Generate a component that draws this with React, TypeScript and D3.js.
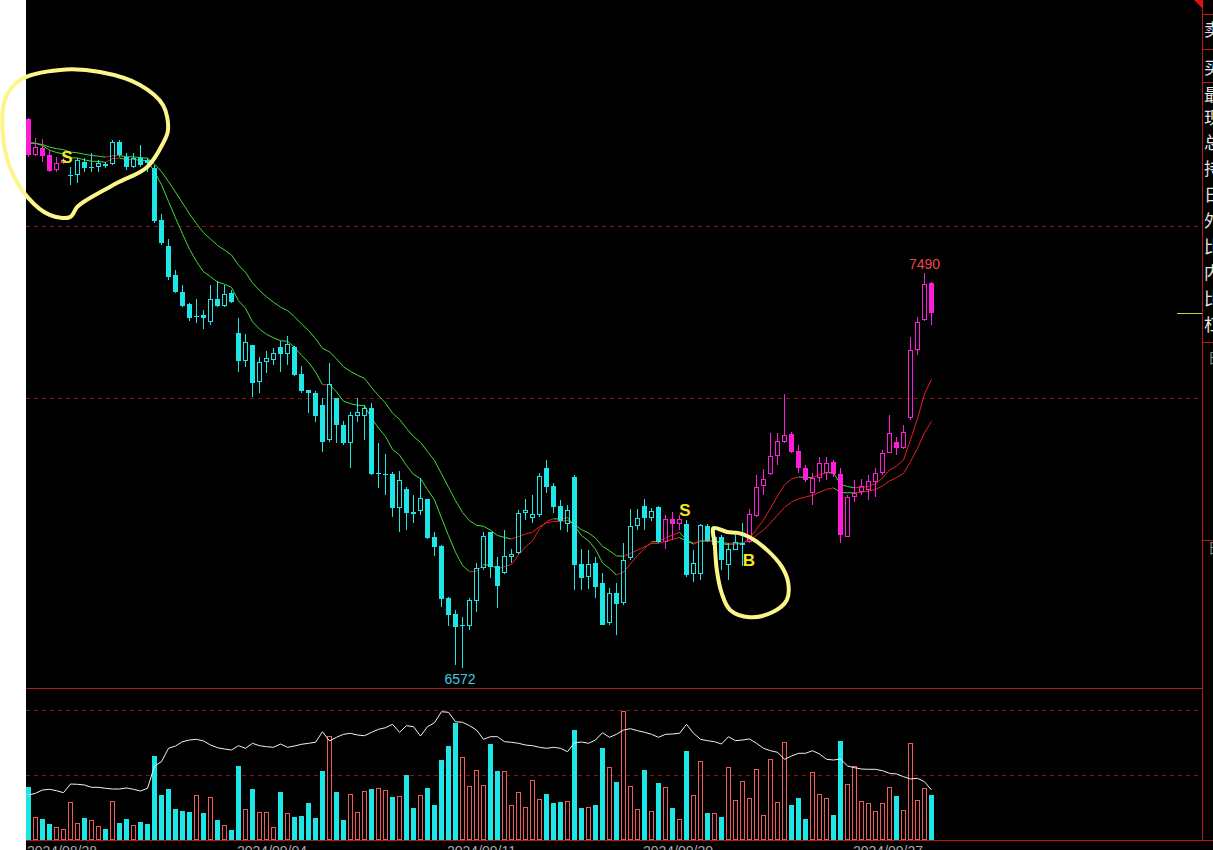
import React from 'react';
import * as d3 from 'd3';

// ---------- DATA ----------
const opens = [7848,7764,7780,7764,7729,7746,7715,7718,7748,7734,7736,7743,7743,7794,7760,7736,7757,7753,7734,7613,
7553,7485,7446,7418,7388,7392,7376,7430,7413,7444,7351,7286,7323,7237,7283,7288,7318,7302,7318,7255,
7218,7211,7183,7102,7200,7137,7095,7158,7158,7176,7023,7021,7023,6944,6988,6935,6937,6965,6877,6856,
6735,6698,6670,6670,6728,6804,6888,6809,6793,6830,6839,6932,6921,6928,7037,6995,6948,6907,7016,6814,
6784,6816,6770,6677,6746,6723,6828,6902,6948,6921,6946,6865,6918,6907,6907,6790,6790,6902,6858,6877,
6811,6846,6858,6865,6925,6995,7023,7065,7097,7116,7076,7037,6979,7014,7025,7051,7023,6876,6969,6981,
6986,7004,7025,7072,7097,7083,7153,7311,7381,7467];
const highs = [7850,7804,7801,7776,7760,7757,7736,7757,7757,7769,7753,7748,7799,7799,7769,7769,7788,7757,7741,7627,
7569,7497,7462,7420,7430,7404,7462,7471,7462,7451,7385,7348,7323,7295,7309,7316,7332,7344,7320,7274,
7218,7216,7200,7281,7200,7146,7167,7200,7183,7188,7095,7069,7028,7030,6993,6974,7014,6965,6888,6858,
6737,6707,6691,6735,6816,6888,6888,6830,6893,6849,6939,6965,6974,7025,7055,7002,6962,6951,7021,6849,
6846,6830,6793,6758,6770,6862,6942,6942,6965,6944,6948,6928,6935,6928,6916,6846,6907,6907,6897,6881,
6862,6881,6909,6942,7021,7035,7118,7118,7209,7121,7090,7044,7025,7062,7062,7055,7037,6974,7009,7011,
7021,7037,7079,7160,7109,7137,7341,7388,7490,7469];
const lows = [7760,7762,7748,7725,7725,7743,7695,7699,7725,7725,7725,7734,7741,7760,7729,7734,7736,7725,7606,7555,
7474,7444,7411,7378,7374,7360,7369,7411,7411,7420,7260,7272,7202,7211,7258,7276,7260,7276,7251,7211,
7165,7144,7074,7097,7095,7090,7037,7144,7102,7021,6990,6974,6923,6888,6893,6909,6928,6872,6832,6714,
6670,6579,6572,6660,6702,6800,6781,6712,6790,6816,6837,6916,6909,6923,6979,6932,6893,6888,6753,6753,
6756,6735,6672,6672,6649,6718,6823,6893,6893,6914,6862,6849,6870,6893,6784,6772,6777,6865,6853,6800,
6777,6846,6809,6862,6923,6974,7021,7044,7095,7072,7025,7004,6951,7004,7009,7016,6862,6876,6958,6974,
6962,6969,7021,7072,7067,7081,7148,7299,7379,7369];
const closes = [7764,7783,7762,7727,7746,7753,7718,7753,7734,7736,7746,7739,7794,7764,7736,7757,7741,7746,7611,7560,
7481,7446,7413,7385,7390,7385,7430,7413,7441,7423,7286,7330,7234,7283,7293,7304,7302,7325,7253,7216,
7211,7158,7097,7232,7137,7095,7160,7167,7176,7023,7025,7023,6944,7009,6932,6930,6967,6874,6853,6732,
6695,6667,6672,6730,6804,6879,6807,6763,6832,6837,6932,6939,6930,7018,6993,6946,6914,6939,6811,6781,
6814,6760,6672,6746,6721,6823,6902,6921,6921,6937,6865,6918,6907,6918,6788,6816,6904,6867,6877,6823,
6849,6865,6862,6930,6993,7011,7065,7100,7114,7074,7037,7009,7014,7049,7049,7023,6881,6969,6979,6995,
7007,7025,7072,7118,7083,7120,7311,7376,7465,7397];
const volumes = [16320,7080,6470,4930,4000,3390,11700,5240,6780,6160,4310,3390,12010,5240,6470,4620,5540,4930,25870,13860,
15710,9550,8930,8620,13860,8320,13240,6160,4620,3080,22790,9550,15710,8620,8620,4000,14780,8320,7080,7390,
11400,6780,21250,32030,14780,6160,14170,8620,15090,15710,16020,15400,13240,13550,20020,9860,13860,16020,10780,24640,
28950,36040,25560,16630,21560,16940,29570,21250,21250,10780,14780,10160,18480,12630,14170,11400,11700,12010,33880,9860,
10160,10780,28340,22480,17860,39730,16630,9550,21560,8930,17560,16320,9860,6470,27410,13860,24330,8320,8320,7080,
22480,12320,18170,12940,21870,7700,24950,11700,30180,10780,12940,6470,20940,14170,12940,7700,30490,17250,22790,12010,
11400,8930,11400,16320,13550,9240,29880,12320,16020,13860];
const openInterest = [55000,56700,60000,60700,59300,57300,66000,65700,65000,62700,62700,61700,61000,61000,62000,60700,59000,61700,84000,88300,
101700,104000,108300,110000,110700,109000,105000,102300,101000,100000,104300,101700,106700,104300,103300,102700,106000,102700,104000,105700,
106700,107700,118300,109000,112700,115700,116700,115000,114300,117700,120700,122300,125700,117700,124300,123300,114000,123300,127300,138300,
137700,128300,127700,124300,120000,110700,113300,113300,108300,107700,106700,105000,104300,102700,101700,102700,101700,98300,107300,108000,
106700,110000,117300,112700,115700,120000,121300,119300,117700,115700,112700,115700,116000,116700,125700,116700,110700,109300,108300,106000,
113300,109300,110000,111000,106700,101700,99300,97700,90700,94000,96700,96700,99300,96000,90700,90000,91000,84000,82300,81000,
80700,80700,79300,76700,76000,73300,71000,71700,68300,60000];

// bars drawn in the "buy" colour (between a B and the next S)
const buyRanges: [number, number][] = [[0, 5], [91, 93], [103, 129]];
const signalIdx = [6, 94, 103];
const signalType = ['S', 'S', 'B'];
const dateTickIdx = [0, 30, 60, 88, 118];
const dateTickLabels = ['2024/08/28', '2024/09/04', '2024/09/11', '2024/09/20', '2024/09/27'];
const priceGrid = [7200, 7600];
const volGrid = [20000, 40000];
const emaPeriods = [10, 20];
const emaSeeds = [7800, 7795];
const panelLabels = ['卖', '买', '最', '现', '总', '持', '日', '外', '比', '内', '比', '杠'];
const panelLabelY = [30, 68, 95, 118, 143, 169, 195, 221, 247, 273, 299, 325];
const extremeHighIdx = 128;
const extremeLowIdx = 62;
// hand-drawn annotation loops, in (bar index, price)
const loop1: [number, number][] = [[19.3, 7792], [17.0, 7736], [12.7, 7699], [8.4, 7660], [7.0, 7643], [6.0, 7620], [3.1, 7625], [-0.1, 7667], [-2.6, 7736], [-3.6, 7815], [-3.3, 7892], [-1.1, 7939], [4.6, 7962], [10.3, 7957], [16.0, 7927], [19.3, 7880], [20.0, 7822]];
const loop2: [number, number][] = [[97.9, 6897], [99.9, 6888], [101.4, 6886], [103.1, 6876], [105.6, 6846], [107.7, 6807], [108.6, 6770], [108.4, 6730], [106.4, 6702], [103.1, 6690], [100.3, 6707], [99.1, 6746], [98.4, 6800], [98.1, 6862]];

const CYAN = '#1ee6e6';
const MAG = '#ff1ed8';
const VRED = '#ee5a58';
const GRID = '#8c1212';
const FRAME = '#b81818';

function ema(vals: number[], period: number, seed: number) {
  const a = 2 / (period + 1);
  let prev = seed;
  return vals.map(v => (prev = prev + a * (v - prev)));
}

export default function App() {
  const W = 1213, H = 850;
  const n = closes.length;
  const x = d3.scaleLinear().domain([0, n - 1]).range([28, 931]);
  const y = d3.scaleLinear().domain([6572, 7490]).range([668, 273]);
  const yv = d3.scaleLinear().domain([0, 46800]).range([840, 688]);
  const yo = d3.scaleLinear().domain([10000, 162000]).range([840, 688]);

  const isBuy = (i: number) => buyRanges.some(([a, b]) => i >= a && i <= b);
  const emas = emaPeriods.map((p, k) => ema(closes, p, emaSeeds[k]));

  const oiLine = d3.line<number>().x((_, i) => x(i) + 0.5).y(d => yo(d));
  const loopLine = d3.line<[number, number]>().x(d => x(d[0])).y(d => y(d[1])).curve(d3.curveCatmullRomClosed.alpha(0.5));

  const candles = closes.map((c, i) => {
    const cx = Math.round(x(i));
    const o = opens[i];
    const up = c >= o;
    const col = isBuy(i) ? MAG : CYAN;
    const yTop = Math.round(y(Math.max(o, c)));
    const yBot = Math.round(y(Math.min(o, c)));
    const yH = Math.round(y(highs[i]));
    const yL = Math.round(y(lows[i]));
    const bh = Math.max(1, yBot - yTop);
    return (
      <g key={i}>
        {up ? (
          <>
            <line x1={cx + 0.5} x2={cx + 0.5} y1={yH} y2={yTop} stroke={col} />
            <line x1={cx + 0.5} x2={cx + 0.5} y1={yBot} y2={yL} stroke={col} />
            {bh <= 1 ? (
              <rect x={cx - 2} y={yTop} width={5} height={1} fill={col} />
            ) : (
              <rect x={cx - 1.5} y={yTop + 0.5} width={4} height={bh - 1} fill="none" stroke={col} />
            )}
          </>
        ) : (
          <>
            <line x1={cx + 0.5} x2={cx + 0.5} y1={yH} y2={yL} stroke={col} />
            <rect x={cx - 2} y={yTop} width={5} height={bh} fill={col} />
          </>
        )}
      </g>
    );
  });

  const vols = volumes.map((v, i) => {
    const cx = Math.round(x(i));
    const up = closes[i] >= opens[i];
    const top = Math.round(yv(v));
    const base = Math.round(yv(0));
    return up ? (
      <rect key={i} x={cx - 1.5} y={top + 0.5} width={4} height={base - top - 1} fill="none" stroke={VRED} />
    ) : (
      <rect key={i} x={cx - 2} y={top} width={5} height={base - top} fill={CYAN} />
    );
  });

  const maSegs: JSX.Element[] = [];
  emas.forEach((arr, k) => {
    for (let i = 1; i < n; i++) {
      const rising = arr[i] > arr[i - 1];
      maSegs.push(
        <line key={`m${k}-${i}`} x1={x(i - 1) + 0.5} y1={y(arr[i - 1])} x2={x(i) + 0.5} y2={y(arr[i])}
          stroke={rising ? '#e82020' : '#46d83a'} strokeWidth={1} />
      );
    }
  });

  return (
    <div style={{ position: 'absolute', left: 0, top: 0, width: W, height: H, overflow: 'hidden' }}>
      <svg width={W} height={H} style={{ display: 'block' }}>
        <rect x={0} y={0} width={W} height={H} fill="#ffffff" />
        <rect x={26} y={0} width={W - 26} height={H} fill="#000000" />

        {/* grid */}
        {priceGrid.map(p => (
          <line key={p} x1={26} x2={1202} y1={Math.round(y(p)) + 0.5} y2={Math.round(y(p)) + 0.5} stroke={GRID} strokeDasharray="4,4" />
        ))}
        {volGrid.map(v => (
          <line key={v} x1={26} x2={1202} y1={Math.round(yv(v)) + 0.5} y2={Math.round(yv(v)) + 0.5} stroke={GRID} strokeDasharray="4,4" />
        ))}

        {/* frame */}
        <line x1={26} x2={1202} y1={688.5} y2={688.5} stroke={FRAME} />
        <line x1={26} x2={W} y1={840.5} y2={840.5} stroke={FRAME} />
        <line x1={1202.5} x2={1202.5} y1={0} y2={841} stroke={FRAME} />
        {[14, 49, 82, 342, 540].map(v => (
          <line key={v} x1={1202} x2={W} y1={v + 0.5} y2={v + 0.5} stroke={FRAME} />
        ))}
        <polygon points="1194,0 1203,0 1203,9" fill="#e01010" />
        <line x1={1177} x2={1202} y1={313.5} y2={313.5} stroke="#c9d040" />

        {/* right side panel labels */}
        {panelLabels.map((t, k) => (
          <text key={k} x={1204} y={panelLabelY[k] + 6} fontSize={17} fill="#e4e4e4" fontFamily="'Noto Sans CJK SC', sans-serif">{t}</text>
        ))}
        <text x={1208} y={363} fontSize={14} fill="#8a8a8a" fontFamily="'Noto Sans CJK SC', sans-serif">日</text>
        <text x={1208} y={553} fontSize={14} fill="#8a8a8a" fontFamily="'Noto Sans CJK SC', sans-serif">日</text>

        {/* volume + open interest */}
        <g shapeRendering="crispEdges">{vols}</g>
        <path d={oiLine(openInterest) || ''} fill="none" stroke="#f2f2f2" strokeWidth={1} />

        {/* moving averages */}
        <g>{maSegs}</g>

        {/* candles */}
        <g shapeRendering="crispEdges">{candles}</g>

        {/* extremes */}
        <text x={x(extremeHighIdx) + 0.5} y={y(highs[extremeHighIdx]) - 4} textAnchor="middle" fontSize={14}
          fill="#f04444" fontFamily="'Liberation Sans', Arial, sans-serif">{highs[extremeHighIdx]}</text>
        <text x={x(extremeLowIdx) - 2} y={y(lows[extremeLowIdx]) + 16} textAnchor="middle" fontSize={14}
          fill="#3fcbe0" fontFamily="'Liberation Sans', Arial, sans-serif">{lows[extremeLowIdx]}</text>

        {/* signals */}
        {signalIdx.map((si, k) => {
          const isS = signalType[k] === 'S';
          const yy = isS ? y(highs[si]) - 4 : y(lows[si]) + 23;
          return (
            <text key={k} x={x(si) - (isS && k === 0 ? 2 : 0) + (isS ? -1 : 0)} y={yy} textAnchor="middle" fontSize={17} fontWeight="bold"
              fill="#f6e61c" fontFamily="'Liberation Sans', Arial, sans-serif">{signalType[k]}</text>
          );
        })}

        {/* hand drawn loops */}
        <path d={loopLine(loop1) || ''} fill="none" stroke="#fbf58a" strokeWidth={4} strokeLinejoin="round" />
        <path d={loopLine(loop2) || ''} fill="none" stroke="#fbf58a" strokeWidth={4} strokeLinejoin="round" />

        {/* date axis */}
        {dateTickIdx.map((di, k) => (
          <text key={k} x={x(di) - 1} y={856} fontSize={14} fill="#a8a8a8" fontFamily="'Liberation Sans', Arial, sans-serif">{dateTickLabels[k]}</text>
        ))}
      </svg>
    </div>
  );
}
